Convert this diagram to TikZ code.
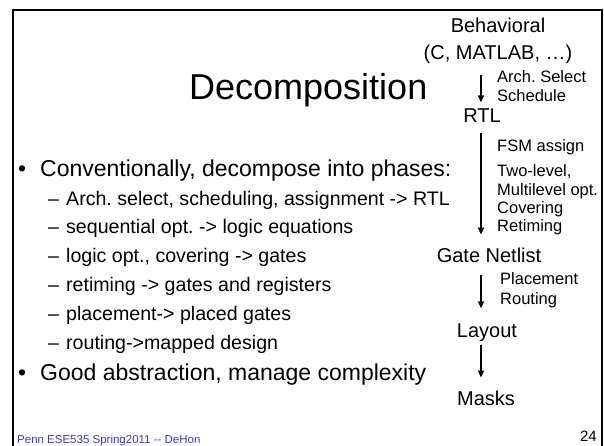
\documentclass[tikz,border=0pt]{standalone}
\usepackage{fontspec}
\setmainfont{Liberation Sans}
\usepackage{tikz}
\usetikzlibrary{arrows.meta,positioning}
\definecolor{footblue}{RGB}{58,58,206}
\frenchspacing

\begin{document}
\begin{tikzpicture}[
			x=1pt, y=-1pt,
			titlenode/.style={
				inner sep=0pt,
				anchor=base west,
				font=\fontsize{36}{40}\selectfont
			},
			bulletnode/.style={
				inner sep=0pt,
				anchor=base west,
				font=\fontsize{23}{27}\selectfont
			},
			subnode/.style={
				inner sep=0pt,
				anchor=base west,
				text height=14.6pt,
				text depth=4.2pt,
				font=\fontsize{19.6}{24}\selectfont
			},
			stagenode/.style={
				inner sep=0pt,
				align=center,
				font=\fontsize{20}{27}\selectfont
			},
			notenode/.style={
				inner sep=0pt,
				align=left,
				anchor=north west,
				font=\fontsize{16.5}{18.3}\selectfont
			},
			footnode/.style={
				inner sep=0pt,
				font=\fontsize{11.5}{13}\selectfont
			},
			arrow/.style={-{Triangle[length=7pt,width=6pt]},line width=1.4pt,draw=black}
			]
			\useasboundingbox (0,0) rectangle (604,446);
			% slide frame, open at the bottom
			\draw[line width=2pt] (13,446) -- (13,10.3) -- (602,10.3) -- (602,446);
			
			\node[titlenode] (title) at (189,100) {Decomposition};
			
			% bullet list
			\node[bulletnode] (b1) at (18,177) {\makebox[22pt][l]{•}Conventionally, decompose into phases:};
			\node[subnode] (s1) at (48,205) {\makebox[18pt][l]{–}Arch. select, scheduling, assignment -> RTL};
			\node[subnode, below right=9.6pt and 0pt of s1.south west] (s2) {\makebox[18pt][l]{–}sequential opt. -> logic equations};
			\node[subnode, below right=9.6pt and 0pt of s2.south west] (s3) {\makebox[18pt][l]{–}logic opt., covering -> gates};
			\node[subnode, below right=9.6pt and 0pt of s3.south west] (s4) {\makebox[18pt][l]{–}retiming -> gates and registers};
			\node[subnode, below right=9.6pt and 0pt of s4.south west] (s5) {\makebox[18pt][l]{–}placement-> placed gates};
			\node[subnode, below right=9.6pt and 0pt of s5.south west] (s6) {\makebox[18pt][l]{–}routing->mapped design};
			\node[bulletnode] (b2) at (18,380) {\makebox[22pt][l]{•}Good abstraction, manage complexity};
			
			% design flow
			\coordinate (ax) at (481,0);
			\node[stagenode, anchor=north] (beh) at (498,17.4) {Behavioral\\(C, MATLAB, …)};
			\node[stagenode, anchor=base] (rtl) at (482,123) {RTL};
			\node[stagenode, anchor=base] (gn) at (489,262) {Gate Netlist};
			\node[stagenode, anchor=base] (lay) at (487,337) {Layout};
			\node[stagenode, anchor=base] (masks) at (486,405) {Masks};
			
			\node[notenode] (n1) at (497,70.7) {Arch. Select\\Schedule};
			\node[notenode, anchor=base west] (n2) at (497,152) {FSM assign};
			\node[notenode] (n3) at (497,164.7) {Two-level,\\Multilevel opt.\\Covering\\Retiming};
			\node[notenode, font=\fontsize{16.5}{20}\selectfont] (n4) at (500,272.7) {Placement\\Routing};
			
			\draw[arrow, shorten <=11.8pt, shorten >=6.7pt] (beh.south -| ax) -- (rtl.north -| ax);
			\draw[arrow, shorten <=10pt, shorten >=12.7pt] (rtl.south -| ax) -- (gn.north -| ax);
			\draw[arrow, shorten <=12.7pt, shorten >=14.7pt] (gn.south -| ax) -- (lay.north -| ax);
			\draw[arrow, shorten <=3.8pt, shorten >=12.7pt] (lay.south -| ax) -- (masks.north -| ax);
			
			% footer
			\node[footnode, text=footblue, anchor=base west] (foot) at (17,443) {Penn ESE535 Spring2011 -{}- DeHon};
			\node[footnode, font=\fontsize{15}{17}\selectfont, anchor=base east] (page) at (597,441) {24};
		\end{tikzpicture}
\end{document}
